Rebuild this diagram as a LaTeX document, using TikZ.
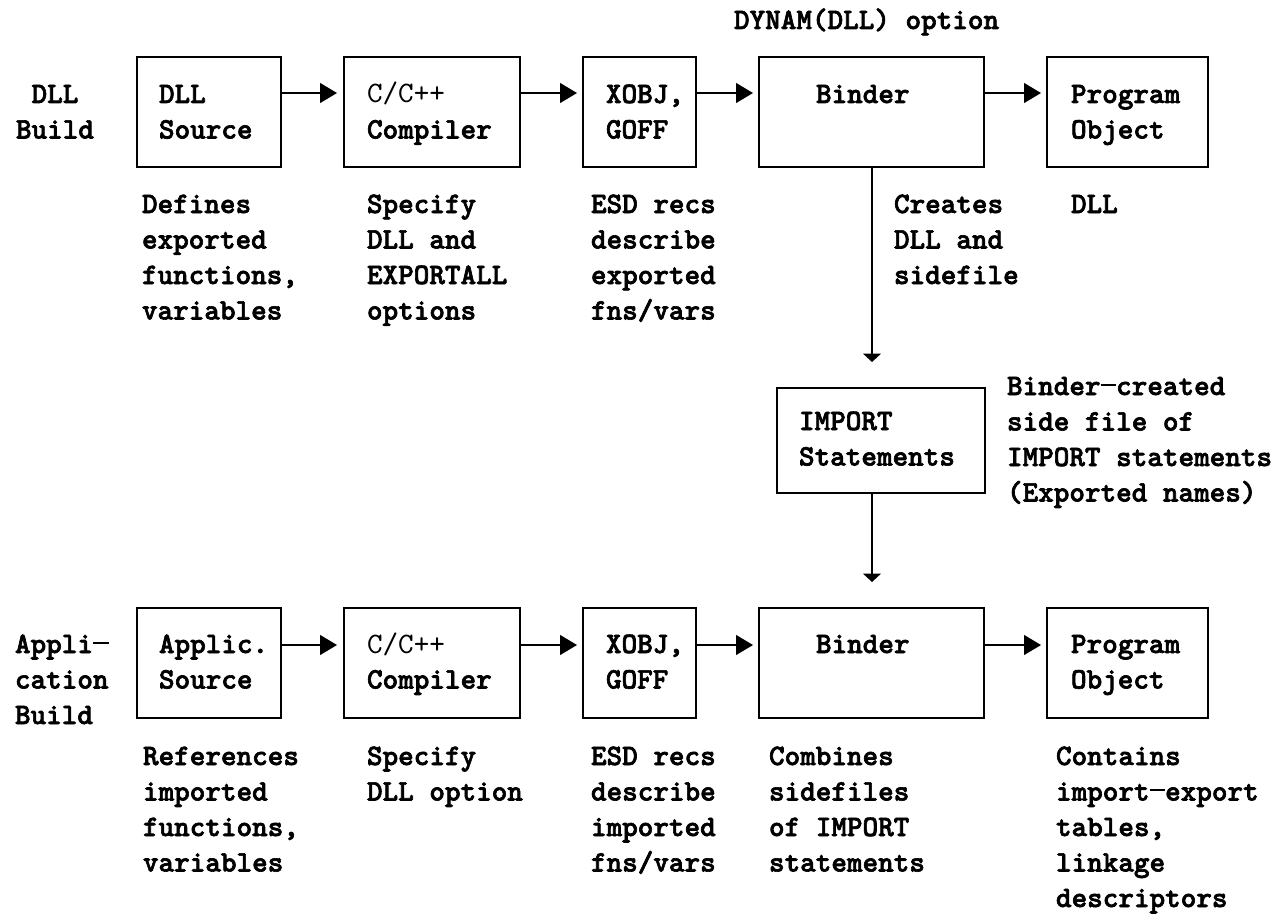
\documentclass[tikz,border=0pt]{standalone}
\usepackage{fontspec}
\usetikzlibrary{arrows.meta}
\newfontfamily\monob{lmmonolt10-bold.otf}[FakeBold=2.2]
\newfontfamily\monor{lmmono10-regular.otf}
\newcommand\mydash{\makebox[15.59pt][c]{\rule[9.5pt]{15.59pt}{1.6pt}}}
\begin{document}
\begin{tikzpicture}[x=1pt,y=-1pt,
  box/.style={draw, line width=1.4pt, inner sep=0pt, outer sep=0pt},
  txt/.style={anchor=north west, inner sep=0pt, outer sep=0pt, align=left,
    font=\monob\fontsize{29.7}{35.5}\selectfont, yshift=26.85pt},
  harrow/.style={line width=1.4pt, -{Triangle[length=17pt,width=20pt]}},
  varrow/.style={line width=1.4pt, -{Triangle[length=8.5pt,width=18pt]}}]
\useasboundingbox (0,0) rectangle (1281,920);
% row coordinates
\coordinate (r1) at (0,93);
\coordinate (r2) at (0,645);
\coordinate (vx) at (872,0);
% top row boxes
\node[box, minimum width=144pt, minimum height=110pt] (a1) at (209,112) {};
\node[box, minimum width=176pt, minimum height=110pt] (a2) at (432,112) {};
\node[box, minimum width=113pt, minimum height=110pt] (a3) at (639.5,112) {};
\node[box, minimum width=225pt, minimum height=110pt] (a4) at (871.5,112) {};
\node[box, minimum width=161pt, minimum height=110pt] (a5) at (1127.5,112) {};
% import box
\node[box, minimum width=208pt, minimum height=105pt] (imp) at (881,440.5) {};
% bottom row boxes
\node[box, minimum width=144pt, minimum height=110pt] (c1) at (209,663) {};
\node[box, minimum width=176pt, minimum height=110pt] (c2) at (432,663) {};
\node[box, minimum width=113pt, minimum height=110pt] (c3) at (639.5,663) {};
\node[box, minimum width=225pt, minimum height=110pt] (c4) at (871.5,663) {};
\node[box, minimum width=161pt, minimum height=110pt] (c5) at (1127.5,663) {};
% texts top
\node[txt, align=center] (l1) at (16,105) {\strut DLL\\Build};
\node[txt] (a1t) at (159,105) {\strut DLL\\Source};
\node[txt] (a2t) at (367,105) {\strut{\monor C/C++}\\Compiler};
\node[txt] (a3t) at (606,105) {\strut XOBJ,\\GOFF};
\node[txt] (a4t) at (816,105) {\strut Binder};
\node[txt] (a5t) at (1071,105) {\strut Program\\Object};
\node[txt] (dyn) at (734,31) {\strut DYNAM(DLL) option};
\node[txt] (d1) at (142,215) {\strut Defines\\exported\\functions,\\variables};
\node[txt] (d2) at (367,215) {\strut Specify\\DLL and\\EXPORTALL\\options};
\node[txt] (d3) at (591,215) {\strut ESD recs\\describe\\exported\\fns/vars};
\node[txt] (d4) at (894,215) {\strut Creates\\DLL and\\sidefile};
\node[txt] (d5) at (1071,215) {\strut DLL};
% import texts
\node[txt] (impt) at (799,432) {\strut IMPORT\\Statements};
\node[txt] (side) at (1007,397) {\strut Binder\mydash created\\side file of\\IMPORT statements\\(Exported names)};
% texts bottom
\node[txt] (l2) at (15,655) {\strut Appli\mydash\\cation\\Build};
\node[txt] (c1t) at (159,655) {\strut Applic.\\Source};
\node[txt] (c2t) at (367,655) {\strut{\monor C/C++}\\Compiler};
\node[txt] (c3t) at (606,655) {\strut XOBJ,\\GOFF};
\node[txt] (c4t) at (816,655) {\strut Binder};
\node[txt] (c5t) at (1071,655) {\strut Program\\Object};
\node[txt] (e1) at (143,767) {\strut References\\imported\\functions,\\variables};
\node[txt] (e2) at (367,767) {\strut Specify\\DLL option};
\node[txt] (e3) at (591,767) {\strut ESD recs\\describe\\imported\\fns/vars};
\node[txt] (e4) at (769,767) {\strut Combines\\sidefiles\\of IMPORT\\statements};
\node[txt] (e5) at (1056,767) {\strut Contains\\import\mydash export\\tables,\\linkage\\descriptors};
% arrows
\draw[harrow] (a1.east |- r1) -- ([xshift=-7pt]a2.west |- r1);
\draw[harrow] (a2.east |- r1) -- ([xshift=-6pt]a3.west |- r1);
\draw[harrow] (a3.east |- r1) -- ([xshift=-6pt]a4.west |- r1);
\draw[harrow] (a4.east |- r1) -- ([xshift=-6pt]a5.west |- r1);
\draw[harrow] (c1.east |- r2) -- ([xshift=-7pt]c2.west |- r2);
\draw[harrow] (c2.east |- r2) -- ([xshift=-6pt]c3.west |- r2);
\draw[harrow] (c3.east |- r2) -- ([xshift=-6pt]c4.west |- r2);
\draw[harrow] (c4.east |- r2) -- ([xshift=-6pt]c5.west |- r2);
\draw[varrow] (a4.south -| vx) -- ([yshift=26pt]imp.north -| vx);
\draw[varrow] (imp.south -| vx) -- ([yshift=26pt]c4.north -| vx);
\end{tikzpicture}
\end{document}
